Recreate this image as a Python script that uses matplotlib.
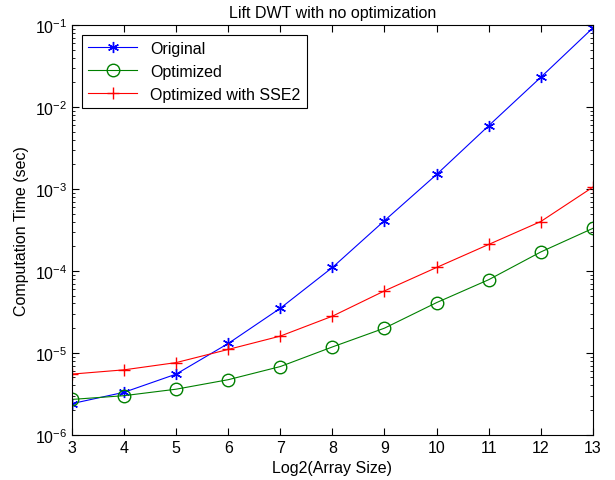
import numpy as np
import matplotlib
matplotlib.use('Agg')
import matplotlib.pyplot as plt

plt.rcParams['font.family'] = ['Liberation Sans', 'DejaVu Sans']
plt.rcParams['mathtext.default'] = 'regular'

# Data
array_size = [3, 4, 5, 6, 7, 8, 9, 10, 11, 12, 13]
original = [2.4e-6, 3.3e-6, 5.5e-6, 1.3e-5, 3.5e-5, 1.1e-4, 4.1e-4, 1.5e-3, 5.9e-3, 2.3e-2, 9.2e-2]
optimized = [2.7e-6, 3.0e-6, 3.6e-6, 4.7e-6, 6.8e-6, 1.18e-5, 2.0e-5, 4.1e-5, 7.8e-5, 1.7e-4, 3.3e-4]
optimized_sse2 = [5.5e-6, 6.2e-6, 7.6e-6, 1.1e-5, 1.6e-5, 2.8e-5, 5.7e-5, 1.1e-4, 2.1e-4, 4.0e-4, 1.05e-3]

fs = 11.5
fig = plt.figure(figsize=(6.15, 4.81), dpi=100)
ax = fig.add_axes([0.117, 0.094, 0.847, 0.852])

# matlab style asterisk marker
ax.semilogy(array_size, original, color='blue', marker=(6, 2, 0), markersize=8, mew=1.0, lw=0.8, label='Original')
ax.semilogy(array_size, optimized, color='green', marker='o', markersize=9, mfc='none', lw=0.8, label='Optimized')
ax.semilogy(array_size, optimized_sse2, color='red', marker='+', markersize=9, lw=0.8, label='Optimized with SSE2')

ax.set_xlim(3, 13)
ax.set_ylim(1e-6, 1e-1)
ax.set_xticks(array_size)
ax.tick_params(which='both', direction='in', top=True, right=True, labelsize=fs)
ax.tick_params(which='major', length=5)
ax.tick_params(which='minor', length=2.5)
for s in ax.spines.values():
    s.set_linewidth(0.8)

ax.set_title('Lift DWT with no optimization', fontsize=fs)
ax.set_xlabel('Log2(Array Size)', fontsize=fs)
ax.set_ylabel('Computation Time (sec)', fontsize=fs)

leg = ax.legend(loc='upper left', fontsize=fs, fancybox=False, edgecolor='black',
                handlelength=3.1, borderaxespad=0.6, labelspacing=0.5, framealpha=1)
leg.get_frame().set_linewidth(0.8)

fig.savefig('out.png', dpi=100)
